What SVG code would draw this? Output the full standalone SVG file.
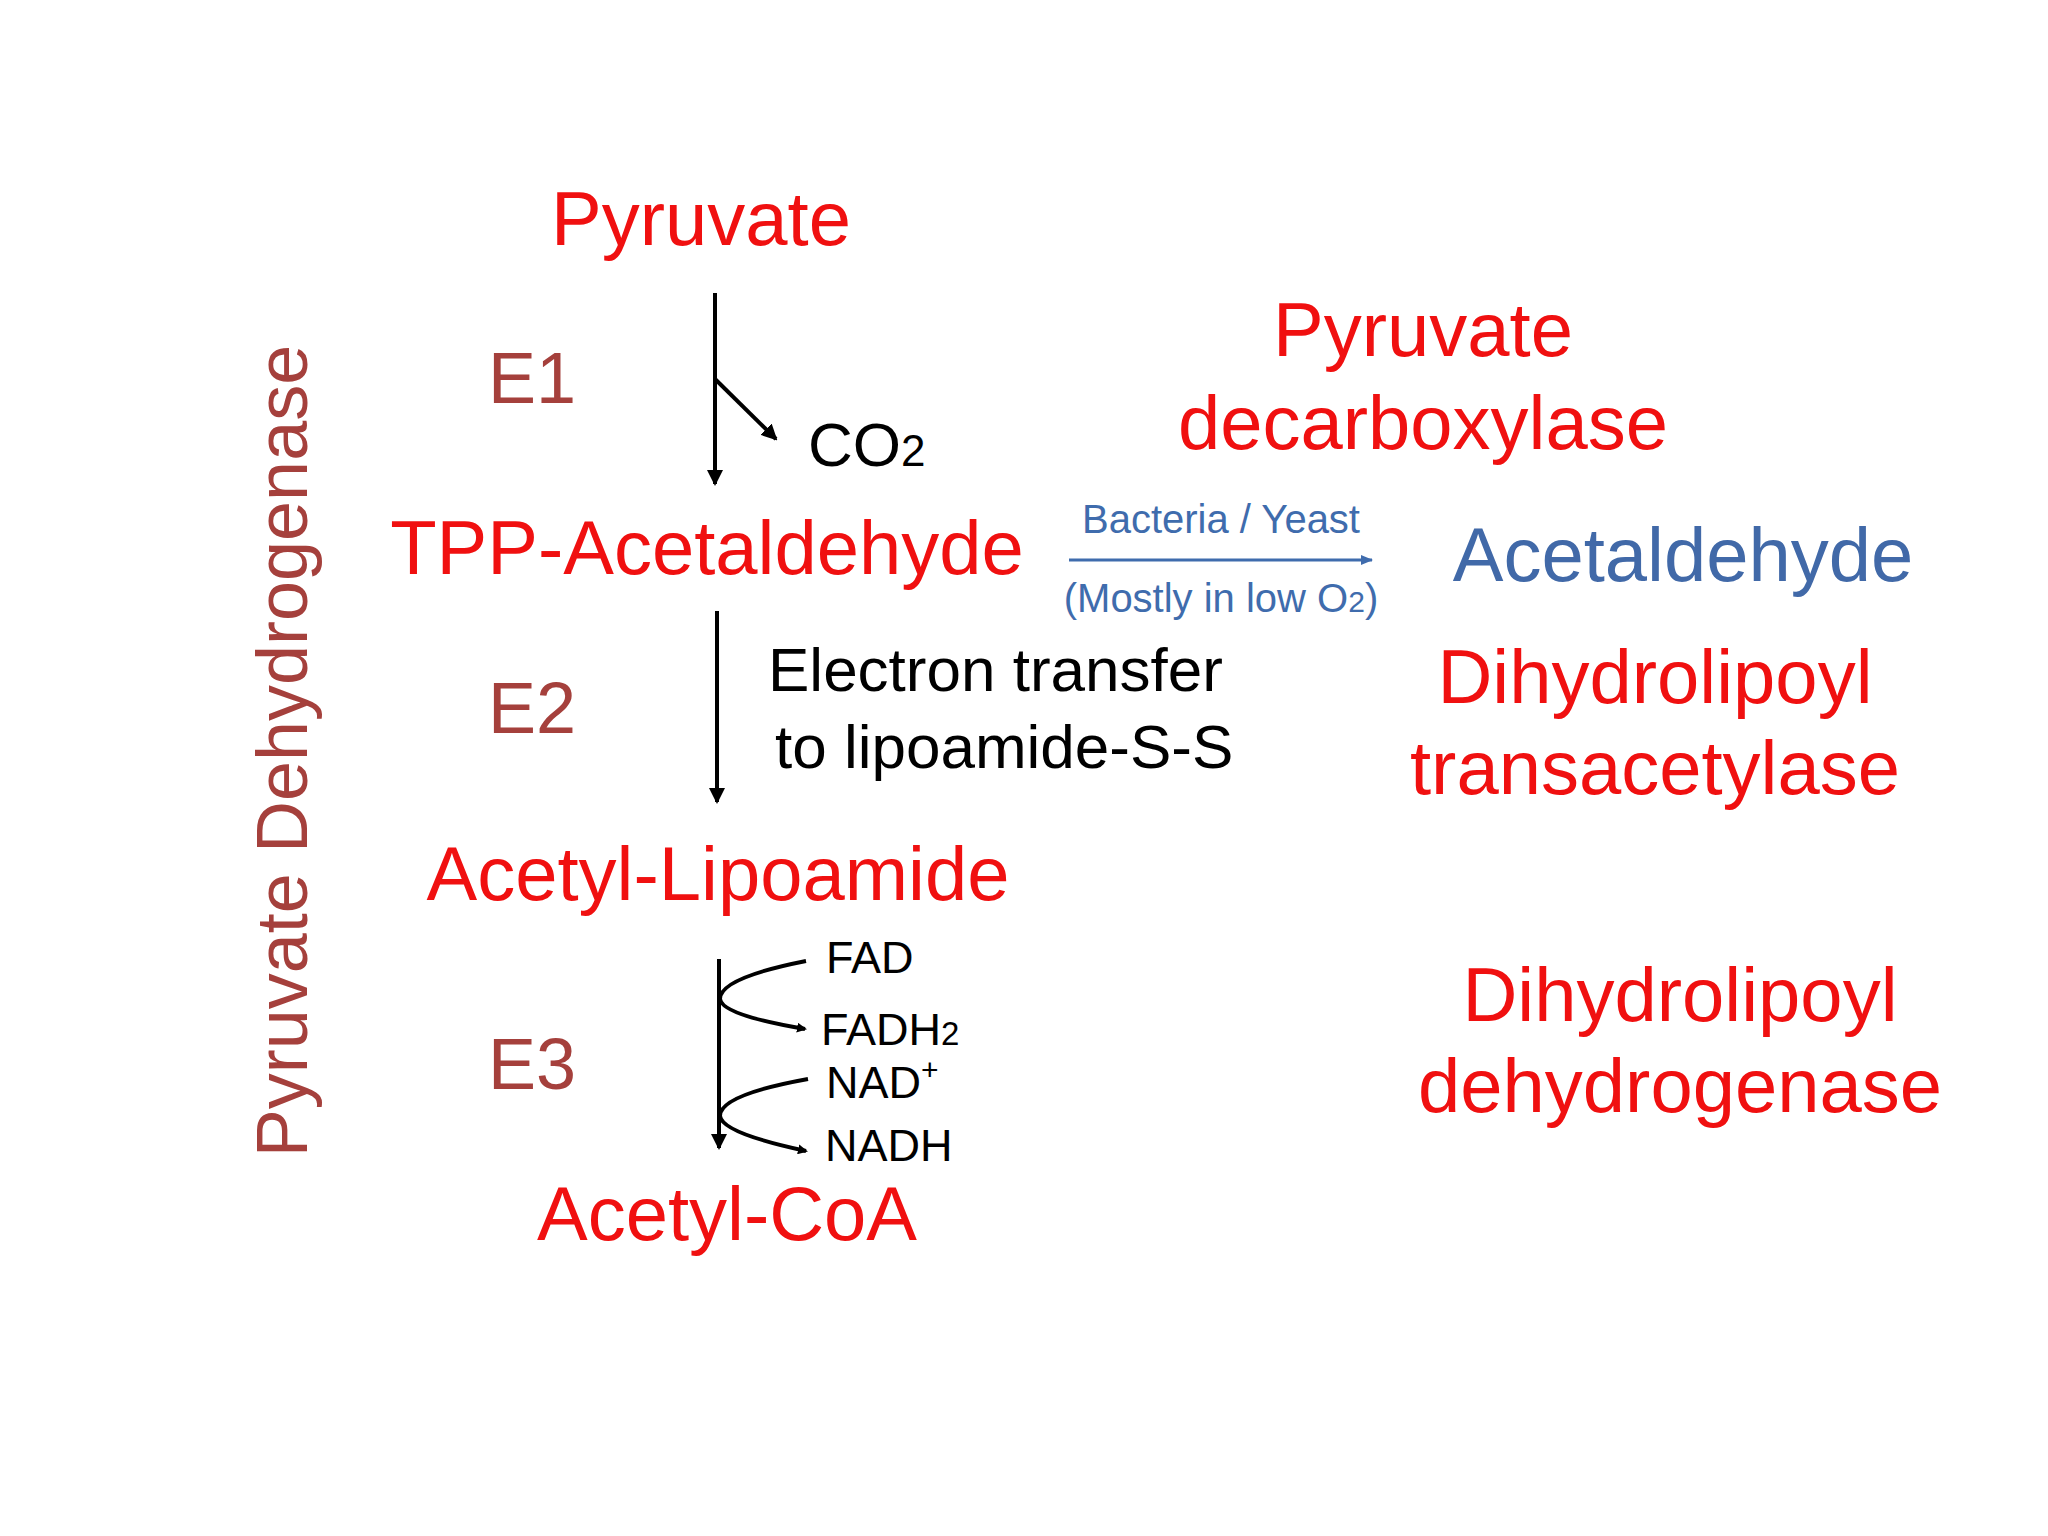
<svg xmlns="http://www.w3.org/2000/svg" width="2048" height="1536" viewBox="0 0 2048 1536">
<style>
text{font-family:"Liberation Sans",Arial,sans-serif}
.r{fill:#F01010;font-size:76px}
.e{fill:#A5403C;font-size:72px}
.k{fill:#000;font-size:62px}
.s{fill:#000;font-size:45px}
.b{fill:#3F6CAD;font-size:40px}
.ln{stroke:#000;stroke-width:4;fill:none}
</style>
<defs>
<marker id="ak" markerWidth="10" markerHeight="10" refX="8" refY="5" orient="auto" markerUnits="userSpaceOnUse" viewBox="0 0 10 10"><path d="M0,0 L10,5 L0,10 z" fill="#000"/></marker>
<marker id="ak2" markerWidth="16" markerHeight="16" refX="14" refY="8" orient="auto" markerUnits="userSpaceOnUse" viewBox="0 0 16 16"><path d="M0,0 L16,8 L0,16 z" fill="#000"/></marker>
<marker id="ab" markerWidth="12" markerHeight="10" refX="11" refY="5" orient="auto" markerUnits="userSpaceOnUse" viewBox="0 0 12 10"><path d="M0,0 L12,5 L0,10 z" fill="#3F6CAD"/></marker>
</defs>
<rect width="2048" height="1536" fill="#fff"/>
<g id="connectors">
<line class="ln" x1="715" y1="293" x2="715" y2="484" marker-end="url(#ak2)"/>
<line class="ln" x1="715" y1="379" x2="776" y2="439" marker-end="url(#ak2)"/>
<line class="ln" x1="717" y1="611" x2="717" y2="802" marker-end="url(#ak2)"/>
<line class="ln" x1="719" y1="959" x2="719" y2="1148" marker-end="url(#ak2)"/>
<path class="ln" d="M806,961 Q720,978 720,999 Q722,1015 805,1029" stroke-width="3.5" marker-end="url(#ak)"/>
<path class="ln" d="M808,1079 Q720,1095 720,1116 Q722,1133 806,1151" stroke-width="3.5" marker-end="url(#ak)"/>
<line x1="1069" y1="560" x2="1372" y2="560" stroke="#3F6CAD" stroke-width="3" marker-end="url(#ab)"/>
</g>
<g id="pdh"><text class="e" font-size="76" transform="translate(307,751) rotate(-90)" text-anchor="middle">Pyruvate Dehydrogenase</text></g>
<g id="pyruvate"><text class="r" x="701" y="245" text-anchor="middle">Pyruvate</text></g>
<g id="e1"><text class="e" x="488" y="403">E1</text></g>
<g id="co2"><text class="k" x="808" y="466">CO<tspan font-size="44">2</tspan></text></g>
<g id="tpp"><text class="r" x="707" y="574" text-anchor="middle">TPP-Acetaldehyde</text></g>
<g id="e2"><text class="e" x="488" y="733">E2</text></g>
<g id="et"><text class="k" x="768" y="691">Electron transfer</text><text class="k" x="775" y="768">to lipoamide-S-S</text></g>
<g id="acl"><text class="r" x="718" y="900" text-anchor="middle">Acetyl-Lipoamide</text></g>
<g id="e3"><text class="e" x="488" y="1089">E3</text></g>
<g id="cof">
<text class="s" x="826" y="973">FAD</text>
<text class="s" x="821" y="1045">FADH<tspan font-size="33">2</tspan></text>
<text class="s" x="826" y="1098">NAD<tspan font-size="30" dy="-18">+</tspan></text>
<text class="s" x="825" y="1161">NADH</text>
</g>
<g id="acoa"><text class="r" x="727" y="1240" text-anchor="middle">Acetyl-CoA</text></g>
<g id="by"><text class="b" x="1221" y="533" text-anchor="middle">Bacteria / Yeast</text><text class="b" x="1221" y="612" text-anchor="middle">(Mostly in low O<tspan font-size="30">2</tspan>)</text></g>
<g id="acet"><text class="r" x="1683" y="581" text-anchor="middle" style="fill:#4169A8">Acetaldehyde</text></g>
<g id="pdc"><text class="r" x="1423" y="356" text-anchor="middle">Pyruvate</text><text class="r" x="1423" y="449" text-anchor="middle">decarboxylase</text></g>
<g id="dlt"><text class="r" x="1655" y="703" text-anchor="middle">Dihydrolipoyl</text><text class="r" x="1655" y="794" text-anchor="middle">transacetylase</text></g>
<g id="dld"><text class="r" x="1680" y="1021" text-anchor="middle">Dihydrolipoyl</text><text class="r" x="1680" y="1112" text-anchor="middle">dehydrogenase</text></g>
</svg>
